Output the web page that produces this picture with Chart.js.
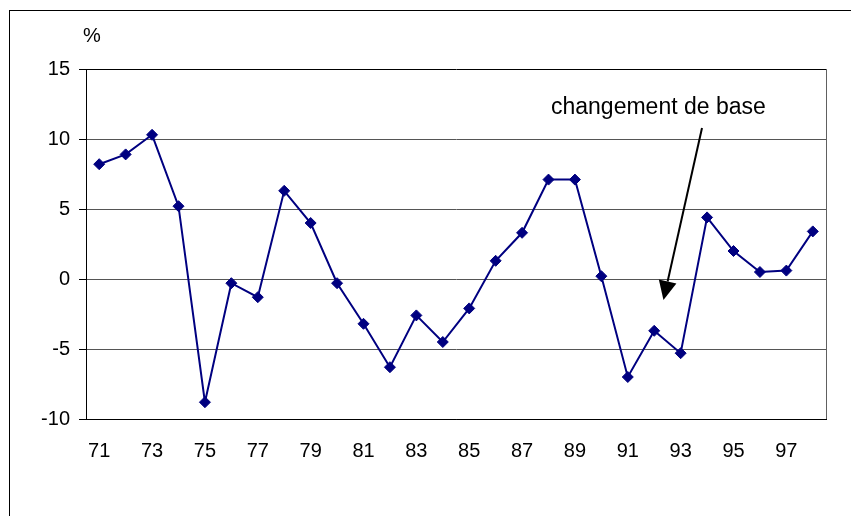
<!DOCTYPE html>
<html>
<head>
<meta charset="utf-8">
<script src="https://cdn.jsdelivr.net/npm/chart.js@4"></script>
<style>
  html, body { margin: 0; padding: 0; background: #fff; }
  #wrap { width: 851px; height: 516px; }
</style>
</head>
<body>
<div id="wrap"><canvas id="growthChart" width="851" height="516"></canvas></div>
<script>
const years = ['71', '72', '73', '74', '75', '76', '77', '78', '79', '80',
    '81', '82', '83', '84', '85', '86', '87', '88', '89', '90',
    '91', '92', '93', '94', '95', '96', '97', '98'];
const growth = [8.2, 8.9, 10.3, 5.2, -8.8, -0.3, -1.3, 6.3, 4.0, -0.3,
    -3.2, -6.3, -2.6, -4.5, -2.1, 1.3, 3.3, 7.1, 7.1, 0.2,
    -7.0, -3.7, -5.3, 4.4, 2.0, 0.5, 0.6, 3.4];
const yTicks = [15, 10, 5, 0, -5, -10];

const FONT = 'Liberation Sans, Arial, sans-serif';

// frame, "%" unit, plot border and the "changement de base" note
const extras = {
    id: 'extras',
    afterDraw(chart) {
        const c = chart.ctx;
        const a = chart.chartArea;
        const x = chart.scales.x;
        const y = chart.scales.y;
        c.save();
        c.strokeStyle = '#000';
        c.lineWidth = 1;
        c.strokeRect(9.5, 10.5, 900, 600);

        c.strokeStyle = '#606060';
        c.beginPath();
        c.moveTo(a.right + 0.5, a.top);
        c.lineTo(a.right + 0.5, a.bottom);
        c.stroke();

        c.fillStyle = '#000';
        c.font = '20px ' + FONT;
        c.textAlign = 'center';
        c.textBaseline = 'middle';
        c.fillText('%', 92, 36);

        c.font = '23px ' + FONT;
        c.textAlign = 'left';
        c.textBaseline = 'alphabetic';
        c.fillText('changement de base', 551, 114);

        // arrow towards the 92 segment
        const tipX = x.getPixelForValue(21.35);
        const tipY = y.getPixelForValue(-1.5);
        const fromX = 702, fromY = 128;
        const ang = Math.atan2(tipY - fromY, tipX - fromX);
        const len = 19, half = 9;
        const bx = tipX - Math.cos(ang) * len;
        const by = tipY - Math.sin(ang) * len;
        c.strokeStyle = '#000';
        c.lineWidth = 2;
        c.beginPath();
        c.moveTo(fromX, fromY);
        c.lineTo(bx, by);
        c.stroke();
        c.beginPath();
        c.moveTo(tipX, tipY);
        c.lineTo(bx + Math.sin(ang) * half, by - Math.cos(ang) * half);
        c.lineTo(bx - Math.sin(ang) * half, by + Math.cos(ang) * half);
        c.closePath();
        c.fill();
        c.restore();
    }
};

new Chart(document.getElementById('growthChart'), {
    type: 'line',
    data: {
        labels: years,
        datasets: [{
            data: growth,
            borderColor: '#000080',
            backgroundColor: '#000080',
            borderWidth: 2,
            pointStyle: 'rectRot',
            pointRadius: 5.5,
            pointBorderWidth: 1,
            tension: 0,
            fill: false
        }]
    },
    options: {
        responsive: false,
        animation: false,
        layout: { padding: { top: 69, right: 25, left: 0, bottom: 0 } },
        plugins: {
            legend: { display: false },
            tooltip: { enabled: false }
        },
        scales: {
            x: {
                offset: true,
                grid: { display: false, drawTicks: false },
                border: { color: '#000', width: 1 },
                ticks: {
                    color: '#000',
                    font: { family: FONT, size: 20 },
                    autoSkip: false,
                    maxRotation: 0,
                    padding: 20,
                    callback: (v, i) => (i % 2 === 0 ? years[i] : '')
                },
                afterFit: s => { s.height = 97; }
            },
            y: {
                min: -10,
                max: 15,
                afterBuildTicks: s => { s.ticks = yTicks.map(v => ({ value: v })); },
                grid: {
                    color: ctx => (ctx.tick && (ctx.tick.value === 15 || ctx.tick.value === -10) ? '#000' : '#555'),
                    tickColor: '#000',
                    tickLength: 7,
                    lineWidth: 1
                },
                border: { color: '#000', width: 1 },
                ticks: {
                    color: '#000',
                    font: { family: FONT, size: 20 },
                    padding: 9
                },
                afterFit: s => { s.width = 86; }
            }
        }
    },
    plugins: [extras]
});
</script>
</body>
</html>
